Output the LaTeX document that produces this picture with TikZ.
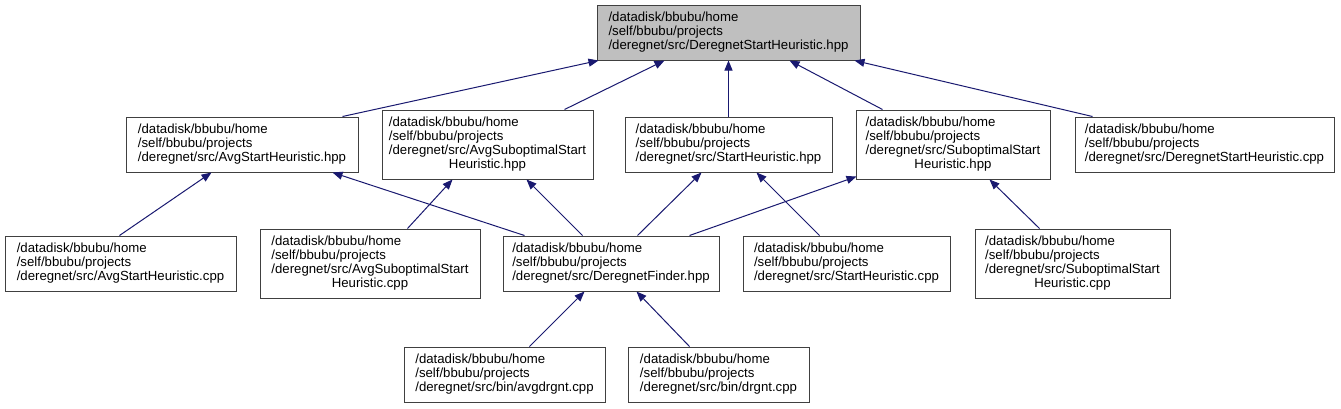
\documentclass[tikz,border=0pt]{standalone}
\usepackage{fontspec}
\setmainfont{Liberation Sans}
\usetikzlibrary{arrows.meta}
\definecolor{edgecol}{HTML}{191970}
\definecolor{boxline}{HTML}{404040}
\definecolor{rootfill}{HTML}{BFBFBF}
\begin{document}
\begin{tikzpicture}[x=1pt,y=-1pt,
  box/.style={draw=boxline, line width=1pt, fill=white, inner sep=0pt, align=left,
    font=\fontsize{13.2}{14}\selectfont},
  small/.style={box, minimum height=55pt},
  tall/.style={box, minimum height=69pt},
  edge/.style={draw=edgecol, line width=1pt, -{Triangle[length=10pt,width=8pt]}}]
\path[use as bounding box, fill=white] (0,0) rectangle (1341,408);

% row 0
\node[small, fill=rootfill, minimum width=263pt] (root) at (728.5,32.5)
  {/datadisk/bbubu/home\\/self/bbubu/projects\\/deregnet/src/DeregnetStartHeuristic.hpp};

% row 1
\node[small, minimum width=232pt] (ash) at (242,144.5)
  {/datadisk/bbubu/home\\/self/bbubu/projects\\/deregnet/src/AvgStartHeuristic.hpp};
\node[tall, minimum width=211pt] (asoh) at (487.5,144.5)
  {\begin{tabular}{@{}l@{}}/datadisk/bbubu/home\\/self/bbubu/projects\\/deregnet/src/AvgSuboptimalStart\\\multicolumn{1}{@{}c@{}}{Heuristic.hpp}\end{tabular}};
\node[small, minimum width=207pt] (sh) at (728.5,144.5)
  {/datadisk/bbubu/home\\/self/bbubu/projects\\/deregnet/src/StartHeuristic.hpp};
\node[tall, minimum width=194pt] (soh) at (953,144.5)
  {\begin{tabular}{@{}l@{}}/datadisk/bbubu/home\\/self/bbubu/projects\\/deregnet/src/SuboptimalStart\\\multicolumn{1}{@{}c@{}}{Heuristic.hpp}\end{tabular}};
\node[small, minimum width=259pt] (dshc) at (1204.5,144.5)
  {/datadisk/bbubu/home\\/self/bbubu/projects\\/deregnet/src/DeregnetStartHeuristic.cpp};

% row 2
\node[small, minimum width=231pt] (ashc) at (120.5,263.5)
  {/datadisk/bbubu/home\\/self/bbubu/projects\\/deregnet/src/AvgStartHeuristic.cpp};
\node[tall, minimum width=220pt] (asohc) at (370,263.5)
  {\begin{tabular}{@{}l@{}}/datadisk/bbubu/home\\/self/bbubu/projects\\/deregnet/src/AvgSuboptimalStart\\\multicolumn{1}{@{}c@{}}{Heuristic.cpp}\end{tabular}};
\node[small, minimum width=216pt] (dfh) at (611,263.5)
  {/datadisk/bbubu/home\\/self/bbubu/projects\\/deregnet/src/DeregnetFinder.hpp};
\node[small, minimum width=207pt] (shc) at (846.5,263.5)
  {/datadisk/bbubu/home\\/self/bbubu/projects\\/deregnet/src/StartHeuristic.cpp};
\node[tall, minimum width=195pt] (sohc) at (1072.5,263.5)
  {\begin{tabular}{@{}l@{}}/datadisk/bbubu/home\\/self/bbubu/projects\\/deregnet/src/SuboptimalStart\\\multicolumn{1}{@{}c@{}}{Heuristic.cpp}\end{tabular}};

% row 3
\node[small, minimum width=201pt] (avg) at (504.5,374.5)
  {/datadisk/bbubu/home\\/self/bbubu/projects\\/deregnet/src/bin/avgdrgnt.cpp};
\node[small, minimum width=181pt] (drg) at (718.5,374.5)
  {/datadisk/bbubu/home\\/self/bbubu/projects\\/deregnet/src/bin/drgnt.cpp};

% edges to root
\draw[edge] ([xshift=217pt]ash.north west) -- ([xshift=2pt]root.south west);
\draw[edge] ([xshift=183pt]asoh.north west) -- ([xshift=68pt]root.south west);
\draw[edge] (sh.north) -- (root.south);
\draw[edge] ([xshift=27pt]soh.north west) -- ([xshift=193pt]root.south west);
\draw[edge] ([xshift=18pt]dshc.north west) -- ([xshift=258pt]root.south west);

% edges to row 1
\draw[edge] ([xshift=115pt]ashc.north west) -- ([xshift=86pt]ash.south west);
\draw[edge] ([xshift=22pt]dfh.north west) -- ([xshift=207pt]ash.south west);
\draw[edge] ([xshift=148pt]asohc.north west) -- ([xshift=71pt]asoh.south west);
\draw[edge] ([xshift=80pt]dfh.north west) -- ([xshift=145pt]asoh.south west);
\draw[edge] ([xshift=135pt]dfh.north west) -- ([xshift=77pt]sh.south west);
\draw[edge] ([xshift=77pt]shc.north west) -- ([xshift=132pt]sh.south west);
\draw[edge] ([xshift=187pt]dfh.north west) -- ([xshift=1pt,yshift=3pt]soh.south west);
\draw[edge] ([xshift=65pt]sohc.north west) -- ([xshift=134pt]soh.south west);

% edges to DeregnetFinder
\draw[edge] ([xshift=126pt]avg.north west) -- ([xshift=82pt]dfh.south west);
\draw[edge] ([xshift=62pt]drg.north west) -- ([xshift=134pt]dfh.south west);
\end{tikzpicture}
\end{document}
